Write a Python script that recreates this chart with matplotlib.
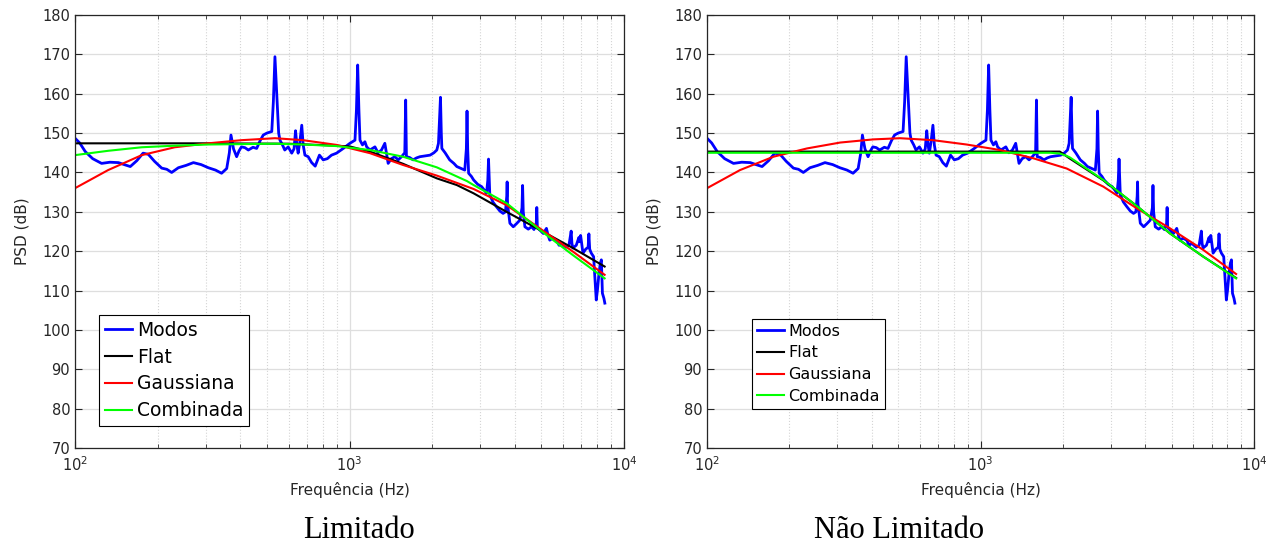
import matplotlib
matplotlib.use('Agg')
import matplotlib.pyplot as plt
from matplotlib.ticker import LogLocator, NullFormatter

# ---------------- data ----------------
modos_f = [100, 104, 109, 116, 125, 134, 144, 151, 159, 168, 177, 185, 195, 207, 216, 225,
           238, 254, 270, 288, 306, 325, 342, 357, 365, 370, 378, 388, 396, 404, 416, 428,
           445, 459, 472, 485, 500, 521, 528, 535, 543, 552, 558, 570, 581, 598, 616, 628,
           636, 643, 650, 660, 670, 678, 688, 707, 728, 750, 777, 802, 830, 860, 897, 949,
           1003, 1047, 1060, 1071, 1082, 1092, 1115, 1138, 1155, 1187, 1238, 1270, 1308, 1345,
           1383, 1420, 1463, 1505, 1547, 1590, 1602, 1612, 1655, 1706, 1755, 1805, 1880, 1966,
           2030, 2080, 2109, 2130, 2145, 2160, 2170, 2230, 2317, 2400, 2460, 2550, 2630, 2665,
           2680, 2695, 2716, 2780, 2832, 2930, 3029, 3100, 3156, 3190, 3210, 3230, 3244, 3330,
           3429, 3530, 3627, 3700, 3740, 3752, 3765, 3840, 3950, 4060, 4177, 4250, 4272, 4295,
           4355, 4480, 4605, 4700, 4790, 4812, 4835, 4934, 5080, 5218, 5290, 5366, 5500, 5673,
           5800, 5914, 6150, 6300, 6420, 6460, 6514, 6700, 6850, 6892, 6950, 7087, 7250, 7400,
           7449, 7500, 7601, 7750, 7850, 7923, 8000, 8107, 8200, 8271, 8344, 8450, 8515]
modos_db = [148.7, 147.5, 145.3, 143.5, 142.3, 142.6, 142.5, 142.0, 141.5, 143.0, 144.9, 144.6,
            142.8, 141.1, 140.8, 140.0, 141.2, 141.8, 142.5, 142.0, 141.2, 140.6, 139.8, 141.0,
            145.0, 149.5, 146.0, 144.0, 145.5, 146.5, 146.3, 145.7, 146.4, 146.1, 148.0, 149.5,
            150.0, 150.4, 158.0, 169.4, 160.0, 150.0, 148.2, 147.0, 145.7, 146.5, 144.9, 146.0,
            150.6, 147.0, 144.9, 148.0, 152.0, 147.0, 144.4, 144.0, 142.5, 141.6, 144.4, 143.2,
            143.5, 144.4, 144.9, 146.1, 147.4, 148.2, 156.0, 167.3, 156.0, 148.2, 147.0, 147.8,
            146.5, 145.7, 146.5, 145.0, 145.7, 147.4, 142.3, 143.5, 144.0, 143.2, 144.0, 145.0,
            158.4, 144.0, 143.8, 143.2, 143.7, 144.0, 144.2, 144.4, 145.0, 145.7, 147.4, 154.0,
            159.1, 150.0, 146.1, 145.0, 143.2, 142.3, 141.5, 141.0, 140.6, 146.0, 155.6, 146.0,
            139.8, 139.0, 138.1, 137.0, 136.4, 135.5, 134.7, 138.0, 143.4, 138.0, 134.3, 132.5,
            131.3, 130.2, 129.6, 130.0, 134.0, 137.6, 132.0, 127.1, 126.2, 127.0, 127.9, 131.0,
            136.7, 130.0, 126.2, 125.6, 126.2, 125.5, 127.0, 131.1, 126.0, 125.4, 124.5, 125.8,
            124.0, 122.8, 123.3, 122.8, 121.5, 122.0, 121.0, 121.5, 125.1, 122.0, 120.8, 121.5,
            123.5, 122.4, 124.0, 119.5, 120.5, 121.0, 124.4, 120.5, 119.5, 118.6, 112.0, 107.6,
            110.0, 114.4, 117.0, 117.8, 109.3, 108.0, 106.8]

# Limitado
lim_flat_f = [100, 300, 600, 897, 1003, 1187, 1567, 2080, 2460, 2832, 3733, 4934, 6514, 8500]
lim_flat_db = [147.4, 147.4, 147.3, 146.8, 146.6, 145.3, 142.2, 138.5, 136.8, 134.7, 130.0,
               125.4, 120.8, 116.1]
lim_gauss_f = [100, 132, 175, 231, 306, 404, 535, 677, 897, 1187, 1567, 2080, 2832, 3733,
               4934, 6514, 8500]
lim_gauss_db = [136.0, 140.6, 144.4, 146.4, 147.4, 148.2, 148.7, 148.2, 147.0, 144.9, 141.9,
                139.2, 135.8, 131.7, 125.8, 119.9, 114.0]
lim_comb_f = [100, 132, 175, 231, 306, 404, 535, 677, 897, 1187, 1567, 2080, 2680, 2832,
              3733, 4934, 6514, 8500]
lim_comb_db = [144.4, 145.5, 146.4, 146.8, 147.1, 147.2, 147.3, 147.1, 146.7, 145.7, 144.0,
               141.3, 137.8, 136.8, 132.2, 125.4, 119.0, 113.1]

# Não Limitado
nl_flat_f = [100, 1950, 2124, 2812, 3725, 4932, 6532, 8600]
nl_flat_db = [145.3, 145.3, 143.5, 138.0, 131.5, 124.5, 118.6, 113.2]
nl_gauss_f = [100, 132, 175, 232, 307, 406, 508, 671, 889, 1178, 1560, 2066, 2812, 3725,
              4932, 6532, 8600]
nl_gauss_db = [136.0, 140.6, 144.0, 146.1, 147.6, 148.4, 148.7, 148.2, 147.1, 145.7, 143.6,
               141.0, 136.4, 130.9, 125.8, 120.3, 114.2]
nl_comb_f = [100, 1000, 1800, 1950, 2050, 2124, 2812, 3725, 4932, 6532, 8600]
nl_comb_db = [145.0, 145.0, 145.0, 144.8, 144.3, 143.8, 138.1, 131.5, 124.5, 118.6, 113.1]

legend_labels = ['Modos', 'Flat', 'Gaussiana', 'Combinada']
panel_titles = ['Limitado', 'Não Limitado']
yticks = list(range(70, 181, 10))

# ---------------- figure ----------------
W, H = 1279, 549
fig = plt.figure(figsize=(W / 100, H / 100), dpi=100)
axL = fig.add_axes([75 / W, 101 / H, 549 / W, 433 / H])
axR = fig.add_axes([707 / W, 101 / H, 547 / W, 433 / H])

txt = '#262626'

def style(ax):
    ax.set_xscale('log')
    ax.set_xlim(100, 10000)
    ax.set_ylim(70, 180)
    ax.set_yticks(yticks)
    ax.xaxis.set_major_locator(LogLocator(base=10, numticks=10))
    ax.xaxis.set_minor_locator(LogLocator(base=10, subs=range(2, 10), numticks=20))
    ax.xaxis.set_minor_formatter(NullFormatter())
    ax.grid(True, which='major', color='#dedede', linewidth=0.9, linestyle='-')
    ax.grid(True, which='minor', axis='x', color='#d4d4d4', linewidth=0.8, linestyle=':')
    ax.set_axisbelow(True)
    ax.tick_params(which='both', direction='in', top=True, right=True, colors='#262626',
                   labelsize=10.5, labelcolor=txt)
    ax.tick_params(axis='x', which='major', pad=5)
    ax.tick_params(which='major', length=5, width=0.8)
    ax.tick_params(which='minor', length=3, width=0.6)
    for s in ax.spines.values():
        s.set_color('#262626')
        s.set_linewidth(0.9)
    ax.set_xlabel('Frequência (Hz)', fontsize=11, color=txt, labelpad=6)
    ax.set_ylabel('PSD (dB)', fontsize=11, color=txt, labelpad=9)

def draw(ax, flat, gauss, comb, lfs, lpos, hl, ls):
    ax.plot(modos_f, modos_db, color=(0, 0, 1), lw=2.0, label=legend_labels[0])
    ax.plot(flat[0], flat[1], color='black', lw=1.5, label=legend_labels[1])
    ax.plot(gauss[0], gauss[1], color=(1, 0, 0), lw=1.5, label=legend_labels[2])
    ax.plot(comb[0], comb[1], color=(0, 1, 0), lw=1.5, label=legend_labels[3])
    leg = ax.legend(loc='upper left', bbox_to_anchor=lpos, borderaxespad=0,
                    fontsize=lfs, handlelength=hl, handletextpad=0.25, labelspacing=ls,
                    borderpad=0.3, fancybox=False, framealpha=1, edgecolor='black')
    leg.get_frame().set_linewidth(0.8)
    for t in leg.get_texts():
        t.set_color('black')

style(axL)
style(axR)
draw(axL, (lim_flat_f, lim_flat_db), (lim_gauss_f, lim_gauss_db), (lim_comb_f, lim_comb_db),
     13.5, (0.044, 0.307), 1.45, 0.42)
draw(axR, (nl_flat_f, nl_flat_db), (nl_gauss_f, nl_gauss_db), (nl_comb_f, nl_comb_db),
     11.5, (0.083, 0.298), 1.7, 0.42)

fig.text(359 / W, 1 - 530 / H, panel_titles[0], ha='center', va='center',
         fontsize=22, family='Liberation Serif', color='black')
fig.text(899.5 / W, 1 - 530 / H, panel_titles[1], ha='center', va='center',
         fontsize=22, family='Liberation Serif', color='black')

fig.savefig('out.png', dpi=100)
